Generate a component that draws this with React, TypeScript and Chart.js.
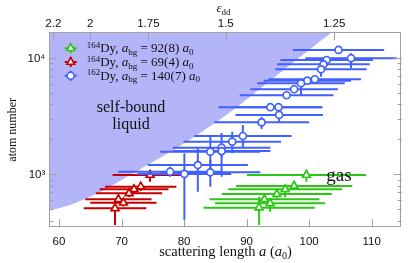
import { useEffect, useRef } from "react";
import { Chart, registerables } from "chart.js";
Chart.register(...registerables);

// ---------- data ----------
const ADD = 130; // dipolar length in a0, eps_dd = ADD / a
const xTickValues = [60, 70, 80, 90, 100, 110];
const epsTickValues = [2.2, 2, 1.75, 1.5, 1.25];
const epsTickLabels = ["2.2", "2", "1.75", "1.5", "1.25"];
const yTickValues = [400, 500, 600, 700, 800, 900, 1000, 2000, 3000, 4000, 5000, 6000, 7000, 8000, 9000, 10000];
const yLabelValues = [1000, 10000];
const yLabelTexts = ["10\u00B3", "10\u2074"];

// boundary of the self-bound liquid region
const boundaryA = [58.45, 61.76, 66.56, 71.36, 74.56, 77.76, 82.56, 87.84, 93.23, 98.56, 103.63];
const boundaryN = [489, 545, 705, 986, 1238, 1554, 2261, 3561, 6032, 10140, 16510];

// 164Dy, a_bg = 92(8) a0
const greenA = [99.57, 97.6, 96.16, 94.83, 92.85, 93.76, 92.0];
const greenAErr = [9.5, 9.3, 9.1, 8.8, 8.8, 8.8, 8.9];
const greenN = [986, 794, 743, 677, 611, 564, 517];
const greenNLo = [864, 740, 636, 630, 565, 478, 367];
const greenNHi = [1089, 850, 800, 730, 660, 605, 643];

// 164Dy, a_bg = 69(4) a0
const redA = [74.56, 73.07, 72.0, 71.2, 69.5, 70.3, 68.96];
const redAErr = [6.0, 5.7, 5.5, 5.3, 5.3, 5.3, 5.0];
const redN = [986, 783, 743, 687, 610, 570, 511];
const redNLo = [864, 720, 690, 640, 565, 530, 367];
const redNHi = [1052, 850, 800, 740, 655, 615, 546];

// 162Dy, a_bg = 140(7) a0
const blueA = [104.7, 106.7, 102.8, 102.3, 101.9, 100.9, 99.7, 98.7, 97.6, 96.4, 93.8, 95.1, 95.2, 92.4, 89.4, 87.7, 86.0, 86.0, 84.2, 82.2, 84.2, 80.05, 77.76];
const blueAErr = [7.3, 7.3, 7.4, 7.4, 7.3, 7.4, 7.0, 7.0, 7.0, 7.5, 8.3, 7.0, 7.0, 7.6, 7.8, 7.8, 7.8, 7.8, 8.0, 8.0, 8.0, 7.5, 8.3];
const blueN = [11640, 9890, 9550, 8770, 7950, 6530, 6350, 6030, 5360, 4760, 3760, 3760, 3230, 2790, 2130, 1905, 1690, 1580, 1563, 1200, 1040, 1006, 1052];
const blueNLo = [10800, 8110, 8900, 8200, 6870, 6100, 5900, 4790, 5000, 4450, 3500, 3500, 2825, 2444, 1671, 1514, 953, 1400, 953, 709, 783, 406, 950];
const blueNHi = [12500, 10920, 10200, 9400, 8500, 7000, 6800, 6400, 5700, 5100, 4000, 4000, 3450, 3097, 2649, 2317, 2260, 1780, 2173, 1671, 1327, 1514, 1160];

const GREEN = "#2ac814";
const RED = "#c40000";
const BLUE = "#4060ff";
const LAVENDER = "#b4b4f8";
const FRAME = "#a0a0a0";
const SERIF = '"Liberation Serif", "DejaVu Serif", serif';
const SANS = '"Liberation Sans", Arial, sans-serif';

type Part = { t: string; font: string; dy?: number };

function partsWidth(ctx: CanvasRenderingContext2D, parts: Part[]) {
  let w = 0;
  for (const p of parts) {
    ctx.font = p.font;
    w += ctx.measureText(p.t).width;
  }
  return w;
}
function drawParts(ctx: CanvasRenderingContext2D, parts: Part[], x: number, y: number) {
  ctx.textBaseline = "alphabetic";
  ctx.textAlign = "left";
  let cx = x;
  for (const p of parts) {
    ctx.font = p.font;
    ctx.fillText(p.t, cx, y + (p.dy || 0));
    cx += ctx.measureText(p.t).width;
  }
}

function triangle(ctx: CanvasRenderingContext2D, x: number, y: number, r: number) {
  ctx.beginPath();
  for (let i = 0; i < 3; i++) {
    const ang = (i * 2 * Math.PI) / 3;
    const px = x + Math.sin(ang) * r;
    const py = y - Math.cos(ang) * r;
    if (i === 0) ctx.moveTo(px, py);
    else ctx.lineTo(px, py);
  }
  ctx.closePath();
}

const errorBarPlugin = {
  id: "errorBars",
  beforeDatasetDraw(chart: any, args: any) {
    const ds = chart.data.datasets[args.index];
    if (!ds.errA) return;
    const { ctx, chartArea } = chart;
    const xs = chart.scales.x;
    const ys = chart.scales.y;
    ctx.save();
    ctx.beginPath();
    ctx.rect(chartArea.left, chartArea.top, chartArea.right - chartArea.left, chartArea.bottom - chartArea.top);
    ctx.clip();
    ctx.strokeStyle = ds.borderColor;
    ctx.lineWidth = 2;
    ds.data.forEach((p: any, i: number) => {
      const px = xs.getPixelForValue(p.x);
      const py = ys.getPixelForValue(p.y);
      ctx.beginPath();
      ctx.moveTo(xs.getPixelForValue(p.x - ds.errA[i]), py);
      ctx.lineTo(xs.getPixelForValue(p.x + ds.errA[i]), py);
      ctx.moveTo(px, ys.getPixelForValue(ds.nLo[i]));
      ctx.lineTo(px, ys.getPixelForValue(ds.nHi[i]));
      ctx.stroke();
    });
    ctx.restore();
  },
};

const decorPlugin = {
  id: "decor",
  afterDatasetsDraw(chart: any) {
    const { ctx, chartArea } = chart;
    const { left, right, top, bottom } = chartArea;
    const xs = chart.scales.x;
    const ys = chart.scales.y;
    ctx.save();
    // ticks (inward)
    ctx.strokeStyle = FRAME;
    ctx.lineWidth = 1;
    ctx.beginPath();
    for (const v of xTickValues) {
      const px = Math.round(xs.getPixelForValue(v)) + 0.5;
      ctx.moveTo(px, bottom);
      ctx.lineTo(px, bottom - 8);
    }
    for (const e of epsTickValues) {
      const px = Math.round(xs.getPixelForValue(ADD / e)) + 0.5;
      ctx.moveTo(px, top);
      ctx.lineTo(px, top + 8);
    }
    for (const v of yTickValues) {
      const major = yLabelValues.includes(v);
      const len = major ? 8 : 4;
      const py = Math.round(ys.getPixelForValue(v)) + 0.5;
      ctx.moveTo(left, py);
      ctx.lineTo(left + len, py);
      ctx.moveTo(right, py);
      ctx.lineTo(right - len, py);
    }
    ctx.stroke();
    // frame
    ctx.strokeStyle = FRAME;
    ctx.strokeRect(Math.round(left) + 0.5, Math.round(top) + 0.5, Math.round(right - left) - 1, Math.round(bottom - top) - 1);

    // legend
    const rows = [
      { color: GREEN, tri: true, iso: "164", abg: "92(8)" },
      { color: RED, tri: true, iso: "164", abg: "69(4)" },
      { color: BLUE, tri: false, iso: "162", abg: "140(7)" },
    ];
    const lx = 70.7;
    rows.forEach((r, i) => {
      const cy = 48.3 + i * 13.7;
      ctx.strokeStyle = r.color;
      ctx.lineWidth = 2;
      ctx.beginPath();
      ctx.moveTo(lx - 6, cy);
      ctx.lineTo(lx + 6, cy);
      ctx.moveTo(lx, cy - 5);
      ctx.lineTo(lx, cy + 5);
      ctx.stroke();
      ctx.fillStyle = "#ffffff";
      ctx.lineWidth = 1.6;
      if (r.tri) {
        triangle(ctx, lx, cy, 4.5);
      } else {
        ctx.beginPath();
        ctx.arc(lx, cy, 3.5, 0, Math.PI * 2);
      }
      ctx.fill();
      ctx.stroke();
      ctx.fillStyle = "#111";
      drawParts(
        ctx,
        [
          { t: r.iso, font: `9px ${SERIF}`, dy: -4.5 },
          { t: "Dy, ", font: `13px ${SERIF}` },
          { t: "a", font: `italic 13px ${SERIF}` },
          { t: "bg", font: `9px ${SERIF}`, dy: 2.5 },
          { t: ` = ${r.abg} `, font: `13px ${SERIF}` },
          { t: "a", font: `italic 13px ${SERIF}` },
          { t: "0", font: `9px ${SERIF}`, dy: 2.5 },
        ],
        86.7,
        cy + 4
      );
    });

    // region labels
    ctx.fillStyle = "#111";
    ctx.font = `16px ${SERIF}`;
    ctx.textAlign = "center";
    ctx.textBaseline = "alphabetic";
    ctx.fillText("self-bound", 131, 112);
    ctx.fillText("liquid", 131, 129);
    ctx.font = `19px ${SERIF}`;
    ctx.fillText("gas", 339, 181);

    // y tick labels
    ctx.font = `11.5px ${SANS}`;
    ctx.textAlign = "right";
    ctx.textBaseline = "middle";
    yLabelValues.forEach((v, i) => {
      ctx.fillText(yLabelTexts[i], left - 4, ys.getPixelForValue(v) + 1);
    });

    // axis titles
    const xt: Part[] = [
      { t: "scattering length ", font: `14.5px ${SERIF}` },
      { t: "a", font: `italic 14.5px ${SERIF}` },
      { t: " (", font: `14.5px ${SERIF}` },
      { t: "a", font: `italic 14.5px ${SERIF}` },
      { t: "0", font: `10px ${SERIF}`, dy: 3 },
      { t: ")", font: `14.5px ${SERIF}` },
    ];
    const cx = (left + right) / 2;
    drawParts(ctx, xt, cx - partsWidth(ctx, xt) / 2, 256);
    const tt: Part[] = [
      { t: "\u03B5", font: `italic 13px ${SERIF}` },
      { t: "dd", font: `9px ${SERIF}`, dy: 2.5 },
    ];
    drawParts(ctx, tt, cx - partsWidth(ctx, tt) / 2 - 2, 12);
    ctx.save();
    ctx.translate(13, (top + bottom) / 2);
    ctx.rotate(-Math.PI / 2);
    ctx.font = `12px ${SERIF}`;
    ctx.textAlign = "center";
    ctx.textBaseline = "middle";
    ctx.fillText("atom number", 0, 0);
    ctx.restore();
    ctx.restore();
  },
};

function pts(a: number[], n: number[]) {
  return a.map((v, i) => ({ x: v, y: n[i] }));
}

export default function App() {
  const ref = useRef<HTMLCanvasElement | null>(null);
  useEffect(() => {
    if (!ref.current) return;
    const chart = new Chart(ref.current, {
      type: "scatter",
      data: {
        datasets: [
          {
            type: "line",
            label: "liquid",
            data: pts(boundaryA, boundaryN),
            fill: "end",
            backgroundColor: LAVENDER,
            borderWidth: 0,
            borderColor: "rgba(0,0,0,0)",
            pointRadius: 0,
            tension: 0.3,
            order: 10,
          } as any,
          {
            label: "164Dy 92",
            data: pts(greenA, greenN),
            errA: greenAErr,
            nLo: greenNLo,
            nHi: greenNHi,
            borderColor: GREEN,
            backgroundColor: "#ffffff",
            pointStyle: "triangle",
            pointRadius: 4.5,
            borderWidth: 1.7,
            order: 3,
          } as any,
          {
            label: "164Dy 69",
            data: pts(redA, redN),
            errA: redAErr,
            nLo: redNLo,
            nHi: redNHi,
            borderColor: RED,
            backgroundColor: "#ffffff",
            pointStyle: "triangle",
            pointRadius: 4.5,
            borderWidth: 1.7,
            order: 2,
          } as any,
          {
            label: "162Dy 140",
            data: pts(blueA, blueN),
            errA: blueAErr,
            nLo: blueNLo,
            nHi: blueNHi,
            borderColor: BLUE,
            backgroundColor: "#ffffff",
            pointStyle: "circle",
            pointRadius: 3.5,
            borderWidth: 1.7,
            order: 1,
          } as any,
        ],
      },
      options: {
        animation: false,
        responsive: true,
        maintainAspectRatio: false,
        devicePixelRatio: 1,
        layout: { padding: { left: 0, right: 13.3, top: 0, bottom: 0 } },
        plugins: { legend: { display: false }, tooltip: { enabled: false } },
        scales: {
          x: {
            type: "linear",
            position: "bottom",
            min: 58.45,
            max: 114.8,
            grid: { display: false, drawTicks: false },
            border: { display: false },
            afterBuildTicks: (s: any) => {
              s.ticks = xTickValues.map((v) => ({ value: v }));
            },
            afterFit: (s: any) => {
              s.height = 263 - 227.3;
            },
            ticks: {
              autoSkip: false,
              maxRotation: 0,
              padding: 8,
              color: "#111",
              font: { family: SANS, size: 11.5 },
              callback: (v: any) => String(v),
            },
          },
          xTop: {
            type: "linear",
            position: "top",
            min: 58.45,
            max: 114.8,
            grid: { display: false, drawTicks: false },
            border: { display: false },
            afterBuildTicks: (s: any) => {
              s.ticks = epsTickValues.map((e) => ({ value: ADD / e }));
            },
            afterFit: (s: any) => {
              s.height = 32.3;
            },
            ticks: {
              autoSkip: false,
              maxRotation: 0,
              padding: 2,
              color: "#111",
              font: { family: SANS, size: 11.5 },
              callback: (_v: any, i: number) => epsTickLabels[i],
            },
          },
          y: {
            type: "logarithmic",
            position: "left",
            min: 351,
            max: 16500,
            grid: { display: false, drawTicks: false },
            border: { display: false },
            afterBuildTicks: (s: any) => {
              s.ticks = yTickValues.map((v) => ({ value: v }));
            },
            afterFit: (s: any) => {
              s.width = 49.3;
            },
            ticks: {
              display: false,
              autoSkip: false,
            },
          },
        },
      } as any,
      plugins: [errorBarPlugin, decorPlugin],
    });
    return () => chart.destroy();
  }, []);
  return (
    <div style={{ position: "fixed", left: 0, top: 0, width: 415, height: 263, background: "#fff" }}>
      <canvas ref={ref} />
    </div>
  );
}
